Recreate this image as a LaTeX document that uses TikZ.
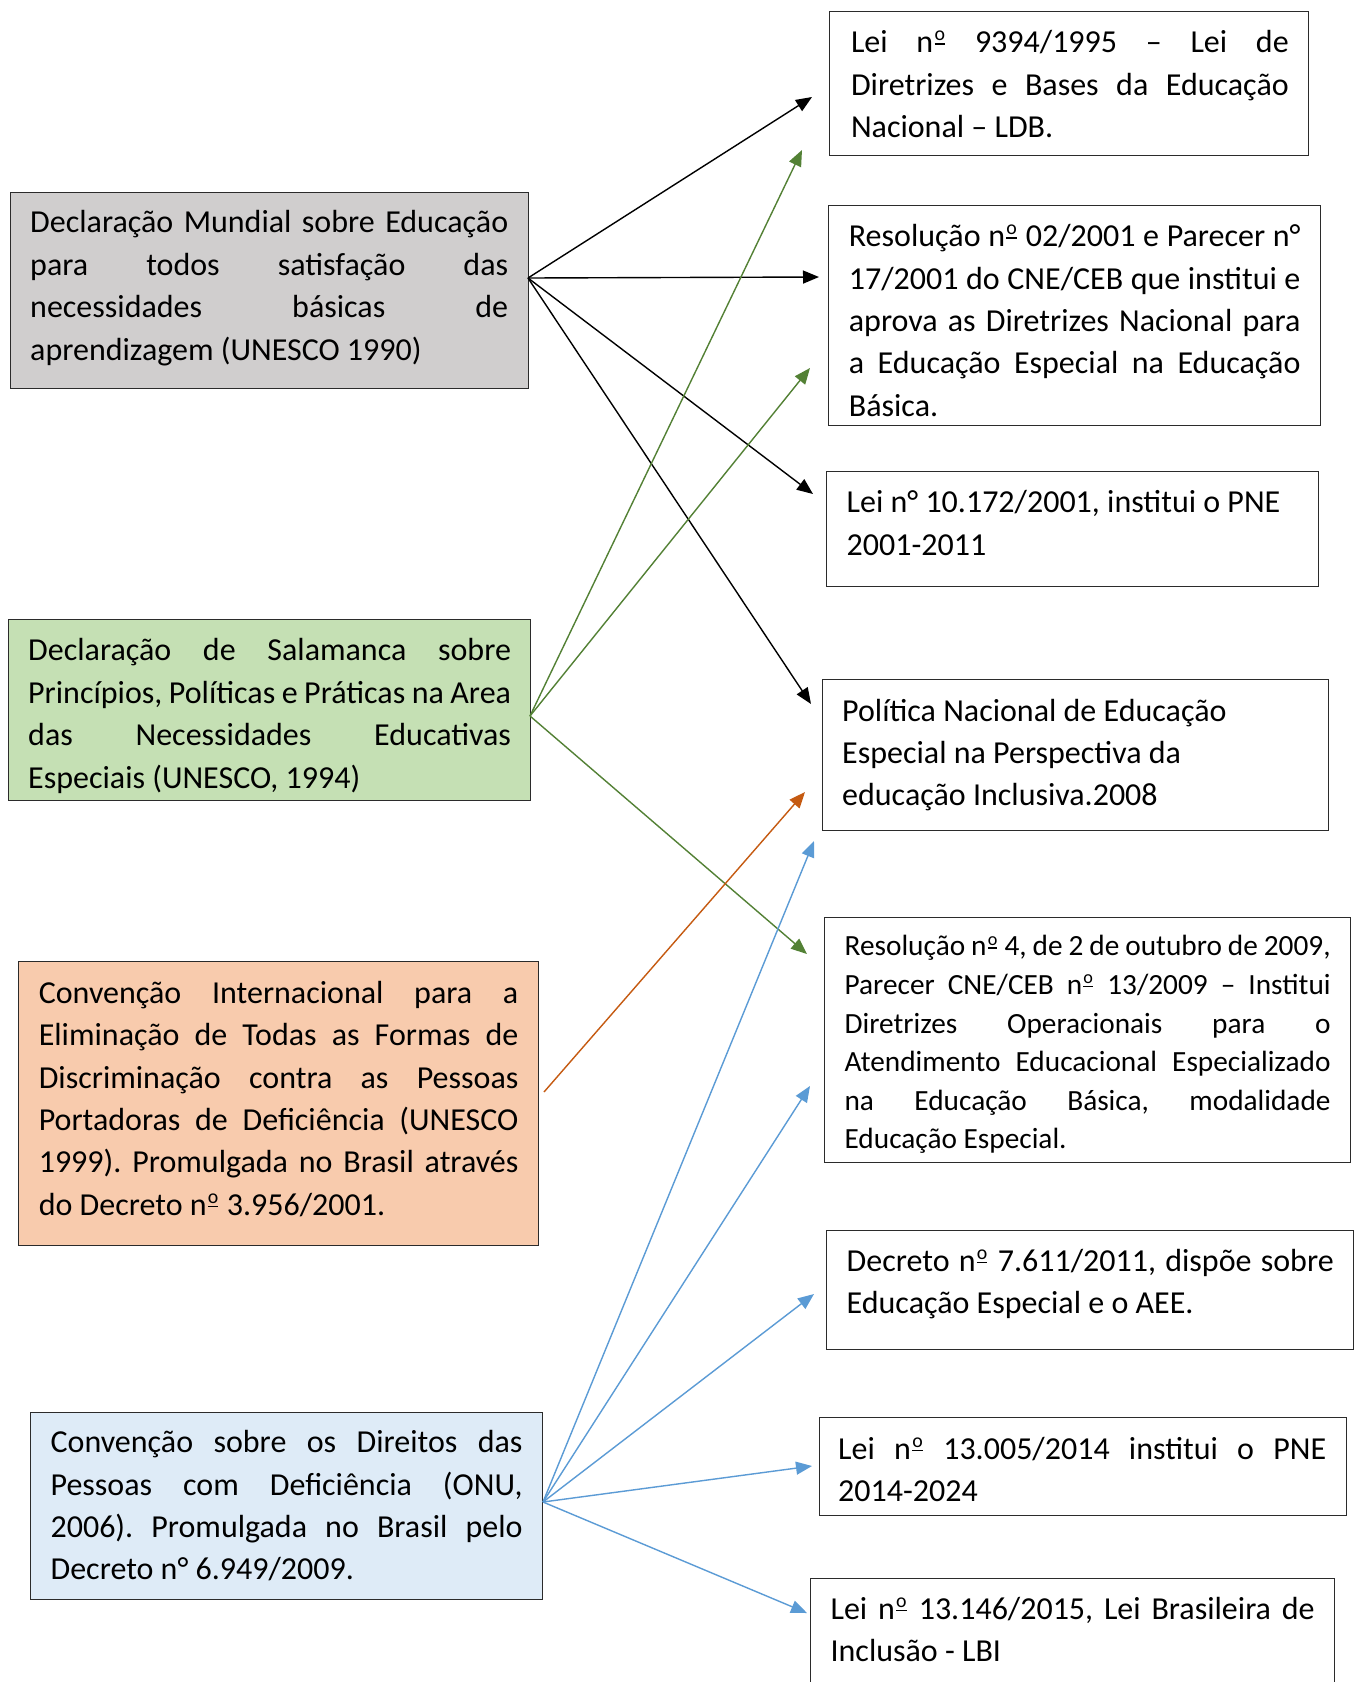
\documentclass[tikz,border=0pt]{standalone}
\usepackage{fontspec}
\setmainfont{Carlito}
\usetikzlibrary{arrows.meta}
\frenchspacing
\definecolor{gfill}{HTML}{D0CECE}
\definecolor{grfill}{HTML}{C5E0B4}
\definecolor{ofill}{HTML}{F8CBAD}
\definecolor{bfill}{HTML}{DEEBF7}
\definecolor{garr}{HTML}{538135}
\definecolor{oarr}{HTML}{C55A11}
\definecolor{barr}{HTML}{5B9BD5}
\definecolor{bord}{HTML}{2B2B2B}
\newcommand\jl[1]{\hbox to\hsize{#1}}
\newcommand\plln[1]{\hbox{#1}}
\newcommand\ordm{\kern0.04em\raisebox{0.25em}{\scalebox{0.62}{\vbox{\hbox{o}\kern0.12em\hrule height 0.07em}}}\kern0.04em}
\tikzset{
  box/.style={draw=bord, line width=1.3pt, inner sep=0pt, anchor=north west},
  txt/.style={anchor=base west, inner sep=0pt, font=\fontsize{32}{42.4}\selectfont\frenchspacing},
  txts/.style={anchor=base west, inner sep=0pt, font=\fontsize{29.3}{38.6}\selectfont\frenchspacing},
  arr/.style={line width=1.4pt, -{Triangle[length=16pt,width=13pt]}},
}
\begin{document}
\begin{tikzpicture}[x=1pt,y=-1pt]
\useasboundingbox (0,0) rectangle (1354,1682);
\fill[white] (0,0) rectangle (1354,1682);
% left boxes
\node[box, fill=gfill, minimum width=518pt, minimum height=196pt] (A) at (10,192) {};
\node[box, fill=grfill, minimum width=522.5pt, minimum height=181pt] (B) at (7.5,619) {};
\node[box, fill=ofill, minimum width=519.5pt, minimum height=283.5pt] (C) at (18,961) {};
\node[box, fill=bfill, minimum width=512pt, minimum height=186.5pt] (D) at (30,1412) {};
% right boxes
\node[box, fill=white, minimum width=479pt, minimum height=144pt] (R1) at (829,11) {};
\node[box, fill=white, minimum width=492pt, minimum height=220pt] (R2) at (828,205) {};
\node[box, fill=white, minimum width=491.5pt, minimum height=115pt] (R3) at (826,471) {};
\node[box, fill=white, minimum width=506pt, minimum height=151pt] (R4) at (822,679) {};
\node[box, fill=white, minimum width=526pt, minimum height=245pt] (R5) at (824,917) {};
\node[box, fill=white, minimum width=527pt, minimum height=119pt] (R6) at (826,1230) {};
\node[box, fill=white, minimum width=527pt, minimum height=98pt] (R7) at (818.5,1417) {};
\node[box, fill=white, minimum width=523.5pt, minimum height=120pt] (R8) at (810,1578) {};
% texts
\node[txt] (tA) at (30,232.8) {\parbox[t]{478pt}{%
\jl{Declaração Mundial sobre Educação}
\jl{para todos satisfação das}
\jl{necessidades básicas de}
\plln{aprendizagem (UNESCO 1990)}}};
\node[txt] (tB) at (28,660.9) {\parbox[t]{482.8pt}{%
\jl{Declaração de Salamanca sobre}
\jl{Princípios, Políticas e Práticas na Area}
\jl{das Necessidades Educativas}
\plln{Especiais (UNESCO, 1994)}}};
\node[txt] (tC) at (38.6,1003.2) {\parbox[t]{479.6pt}{%
\jl{Convenção Internacional para a}
\jl{Eliminação de Todas as Formas de}
\jl{Discriminação contra as Pessoas}
\jl{Portadoras de Deficiência (UNESCO}
\jl{1999). Promulgada no Brasil através}
\plln{do Decreto n\ordm{} 3.956/2001.}}};
\node[txt] (tD) at (50.4,1452.7) {\parbox[t]{472pt}{%
\jl{Convenção sobre os Direitos das}
\jl{Pessoas com Deficiência (ONU,}
\jl{2006). Promulgada no Brasil pelo}
\plln{Decreto n° 6.949/2009.}}};
\node[txt] (t1) at (850.8,52.6) {\parbox[t]{437.7pt}{%
\jl{Lei n\ordm{} 9394/1995 – Lei de}
\jl{Diretrizes e Bases da Educação}
\plln{Nacional – LDB.}}};
\node[txt] (t2) at (848.7,246.7) {\parbox[t]{451.6pt}{%
\jl{Resolução n\ordm{} 02/2001 e Parecer n°}
\jl{17/2001 do CNE/CEB que institui e}
\jl{aprova as Diretrizes Nacional para}
\jl{a Educação Especial na Educação}
\plln{Básica.}}};
\node[txt] (t3) at (846.5,512.8) {\parbox[t]{451pt}{%
\plln{Lei n° 10.172/2001, institui o PNE}
\plln{2001-2011}}};
\node[txt] (t4) at (842,721) {\parbox[t]{466pt}{%
\plln{Política Nacional de Educação}
\plln{Especial na Perspectiva da}
\plln{educação Inclusiva.2008}}};
\node[txts] (t5) at (844.4,955.9) {\parbox[t]{486pt}{%
\jl{Resolução n\ordm{} 4, de 2 de outubro de 2009,}
\jl{Parecer CNE/CEB n\ordm{} 13/2009 – Institui}
\jl{Diretrizes Operacionais para o}
\jl{Atendimento Educacional Especializado}
\jl{na Educação Básica, modalidade}
\plln{Educação Especial.}}};
\node[txt] (t6) at (846.5,1271.4) {\parbox[t]{487pt}{%
\jl{Decreto n\ordm{} 7.611/2011, dispõe sobre}
\plln{Educação Especial e o AEE.}}};
\node[txt] (t7) at (838,1459.2) {\parbox[t]{488pt}{%
\jl{Lei n\ordm{} 13.005/2014 institui o PNE}
\plln{2014-2024}}};
\node[txt] (t8) at (830.4,1619) {\parbox[t]{484pt}{%
\jl{Lei n\ordm{} 13.146/2015, Lei Brasileira de}
\plln{Inclusão - LBI}}};
% connector end points
\coordinate (oA) at (528,278);
\coordinate (eA1) at (812,97);
\coordinate (eA2) at (819,277);
\coordinate (eA3) at (813,494);
\coordinate (eA4) at (811,704);
\coordinate (oB) at (530,716);
\coordinate (eB1) at (802,150);
\coordinate (eB2) at (810,368);
\coordinate (eB3) at (807,954);
\coordinate (oC) at (544,1092);
\coordinate (eC1) at (805,792);
\coordinate (oD) at (543,1502);
\coordinate (eD1) at (814,841);
\coordinate (eD2) at (810,1086);
\coordinate (eD3) at (814,1294);
\coordinate (eD4) at (812,1466);
\coordinate (eD5) at (807,1613);
% connectors
\draw[arr, black] (oA) -- (eA1);
\draw[arr, black] (oA) -- (eA2);
\draw[arr, black] (oA) -- (eA3);
\draw[arr, black] (oA) -- (eA4);
\draw[arr, garr] (oB) -- (eB1);
\draw[arr, garr] (oB) -- (eB2);
\draw[arr, garr] (oB) -- (eB3);
\draw[arr, oarr] (oC) -- (eC1);
\draw[arr, barr] (oD) -- (eD1);
\draw[arr, barr] (oD) -- (eD2);
\draw[arr, barr] (oD) -- (eD3);
\draw[arr, barr] (oD) -- (eD4);
\draw[arr, barr] (oD) -- (eD5);
\end{tikzpicture}
\end{document}
